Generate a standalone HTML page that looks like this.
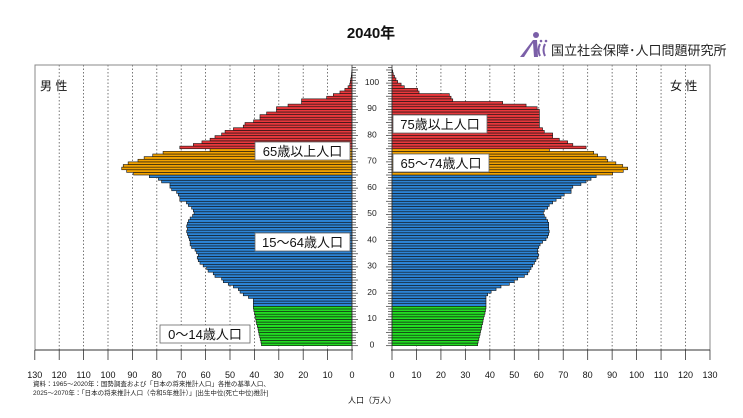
<!DOCTYPE html>
<html><head><meta charset="utf-8">
<style>
html,body{margin:0;padding:0;background:#fff;}
body{width:743px;height:413px;overflow:hidden;font-family:"Liberation Sans","Noto Sans CJK JP",sans-serif;}
</style></head><body>
<svg id="s" width="743" height="413" xmlns="http://www.w3.org/2000/svg" font-family="Liberation Sans, Noto Sans CJK JP, sans-serif">
<text x="371" y="38" font-size="15" font-weight="bold" text-anchor="middle" fill="#111">2040年</text>
<g fill="#7b5fa8">
<circle cx="536" cy="35" r="3"/>
<path d="M520 57 L524 57 L533 43 L534 57 L538 57 L537 40 L533 40 Z"/>
<path d="M540 44 q-3 6 0 12" stroke="#7b5fa8" stroke-width="2" fill="none"/>
<path d="M545 44 q-3 6 0 12" stroke="#7b5fa8" stroke-width="2" fill="none"/>
<circle cx="541" cy="41" r="1.3"/><circle cx="546" cy="41" r="1.3"/>
</g>
<text x="551" y="55" font-size="13" fill="#222">国立社会保障･人口問題研究所</text>
<g id="g"></g>
</svg>
<script>
var g=document.getElementById('g');var h='';
var m=[36.8,37,37.3,37.5,37.8,38,38.2,38.5,38.8,39,39.2,39.4,39.6,39.9,40.1,40.1,40.1,40.1,42.1,44.2,45.5,46.2,48.2,50.3,52.3,53,55.7,56.4,58.5,59.1,60.5,61.8,62.5,62.9,62.5,63.2,63.8,65.2,65.8,65.8,66.1,66.5,66.9,67.2,66.9,67.2,66.9,66.5,65.8,64.8,64.2,64.5,65.2,66.5,67.3,70,70,70.6,71.3,73.3,74,74,77.4,78.7,82.4,88.8,91.6,93.6,93,91,87,84.5,81,76.8,57.7,70,64.5,61,57.7,55.7,53,51.6,48.2,44.2,43.5,40,37.4,37.4,34.7,30.7,30.7,26,20.5,20.5,10.3,7.6,4.9,2.9,1.6,0.9,0.7,0.5,0.3,0.2,0.1];
var f=[34.8,35,35.3,35.5,35.8,36,36.3,36.5,36.8,37,37.2,37.5,37.8,38,38.2,38.2,38.2,38.2,38.2,38.9,40.3,42.3,44.3,47.7,49.7,51.1,53.8,55.2,55.8,56.5,57.2,57.9,58.5,59.2,59.6,59.2,59.2,59.6,60.2,61.2,62.6,63.3,63.7,63.9,63.7,63.7,63.7,63.3,62.6,61.9,61.5,61.9,63.3,63.9,65.3,66.7,68.7,70,72.8,72.8,73.5,76.8,78.9,80.9,83,89.7,94,95.8,93.8,91,87.7,87,83.6,82,64,78.9,73.5,71.4,68,65.3,65.3,61.9,61.2,59.9,59.9,59.9,59.9,59.9,59.9,59.9,59,54.5,45,24.7,24,23.3,11,10.4,5,3.7,2.3,1.6,1,0.5,0.3];
var K=2.46,U=2.626,B=345.7;
function col(a){return a<15?'#22dd22':a<65?'#2c84d6':a<75?'#f2a200':'#e8383c';}
for(var i=0;i<=13;i++){var xl=352-i*24.4,xr=392+i*24.46;
 if(i>0&&i<13){h+='<line x1="'+xl+'" y1="65" x2="'+xl+'" y2="350" stroke="#555" stroke-width="0.8" stroke-dasharray="1.5,2"/>';
 h+='<line x1="'+xr+'" y1="65" x2="'+xr+'" y2="350" stroke="#555" stroke-width="0.8" stroke-dasharray="1.5,2"/>';}
 h+='<line x1="'+xl+'" y1="350" x2="'+xl+'" y2="360" stroke="#333" stroke-width="0.8"/>';
 h+='<line x1="'+xr+'" y1="350" x2="'+xr+'" y2="360" stroke="#333" stroke-width="0.8"/>';
 h+='<text x="'+xl+'" y="378" font-size="9" text-anchor="middle" fill="#111">'+(i*10)+'</text>';
 h+='<text x="'+xr+'" y="378" font-size="9" text-anchor="middle" fill="#111">'+(i*10)+'</text>';}
for(var a=0;a<m.length;a++){var y=B-(a+1)*U;
 var w=m[a]*K;h+='<rect x="'+(352-w)+'" y="'+y+'" width="'+w+'" height="'+U+'" fill="'+col(a)+'" stroke="#111" stroke-width="0.6"/>';
 var w2=f[a]*K;h+='<rect x="392" y="'+y+'" width="'+w2+'" height="'+U+'" fill="'+col(a)+'" stroke="#111" stroke-width="0.6"/>';}
for(var a=0;a<=106;a++){var y=B-a*U;var L=a%5==0?6:4;
 h+='<line x1="352" y1="'+y+'" x2="'+(352+L)+'" y2="'+y+'" stroke="#333" stroke-width="0.7"/>';
 h+='<line x1="'+(392-L)+'" y1="'+y+'" x2="392" y2="'+y+'" stroke="#333" stroke-width="0.7"/>';}
for(var a=0;a<=100;a+=10){h+='<text x="372" y="'+(B-(a+0.5)*U+3)+'" font-size="8.5" text-anchor="middle" fill="#222">'+a+'</text>';}
h+='<path d="M35 350 L35 65 L710 65 L710 350" fill="none" stroke="#888" stroke-width="1"/>';
h+='<line x1="352" y1="65" x2="352" y2="350" stroke="#333" stroke-width="0.8"/><line x1="392" y1="65" x2="392" y2="350" stroke="#333" stroke-width="0.8"/>';
h+='<line x1="35" y1="350" x2="353" y2="350" stroke="#333"/><line x1="391" y1="350" x2="710" y2="350" stroke="#333"/>';
function box(x,y,w,t){return '<rect x="'+x+'" y="'+y+'" width="'+w+'" height="18" fill="#fff" stroke="#666" stroke-width="0.8"/><text x="'+(x+w/2)+'" y="'+(y+14)+'" font-size="13" text-anchor="middle" fill="#111">'+t+'</text>';}
h+=box(255,142,95,'65歳以上人口')+box(393,115,94,'75歳以上人口')+box(393,154,96,'65～74歳人口')+box(255,233,95,'15～64歳人口')+box(160,325,90,'0～14歳人口');
h+='<text x="40" y="90" font-size="12" fill="#111">男 性</text><text x="670" y="90" font-size="12" fill="#111">女 性</text>';
h+='<text x="33" y="386" font-size="6.5" fill="#222">資料：1965～2020年：国勢調査および「日本の将来推計人口」各推の基準人口、</text>';
h+='<text x="33" y="395" font-size="6.5" fill="#222">2025～2070年：「日本の将来推計人口（令和5年推計）」[出生中位(死亡中位)推計]</text>';
h+='<text x="372" y="403" font-size="8" text-anchor="middle" fill="#111">人口（万人）</text>';
g.innerHTML=h;
</script>
</body></html>
